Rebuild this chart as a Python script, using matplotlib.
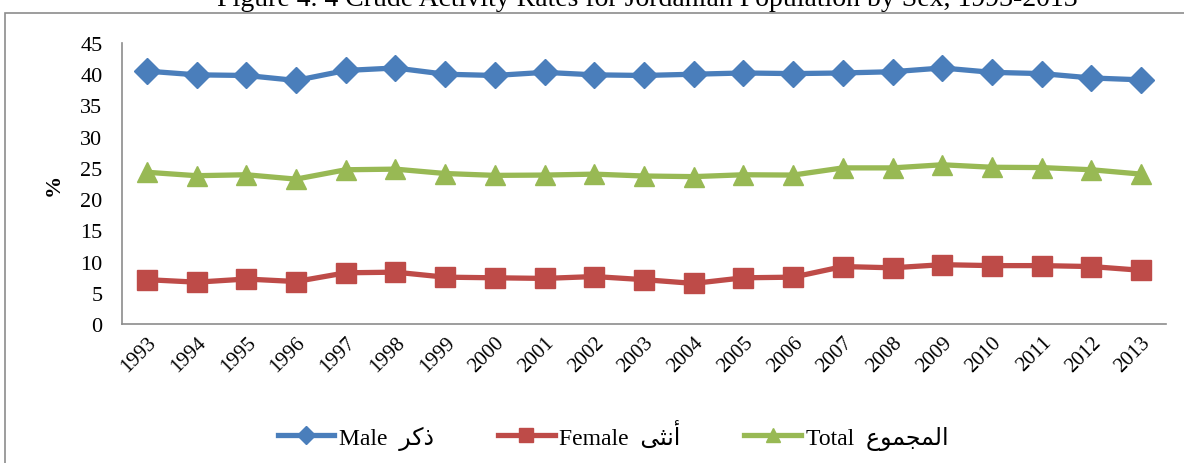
import numpy as np
import matplotlib.pyplot as plt
from matplotlib.patches import Rectangle

years = [str(y) for y in range(1993, 2014)]
male = [40.5, 39.9, 39.8, 39.0, 40.6, 41.0, 40.0, 39.8, 40.3, 39.9, 39.8,
        40.0, 40.2, 40.1, 40.2, 40.4, 41.0, 40.3, 40.1, 39.4, 39.1]
female = [7.1, 6.7, 7.2, 6.8, 8.2, 8.3, 7.5, 7.4, 7.3, 7.6, 7.1,
          6.5, 7.4, 7.5, 9.2, 9.0, 9.5, 9.35, 9.35, 9.2, 8.6]
total = [24.3, 23.75, 23.9, 23.2, 24.7, 24.8, 24.1, 23.8, 23.85, 24.0, 23.7,
         23.6, 23.9, 23.85, 25.0, 25.0, 25.5, 25.1, 25.05, 24.7, 24.0]

# Arabic written in presentation forms, visual order (no shaping in matplotlib)
ar_male = "\uFEAE\uFEDB\uFEAB"
ar_female = "\uFEF0\uFE9C\uFEE7\uFE83"
ar_total = "\uFEC9\uFEEE\uFEE4\uFEA0\uFEE4\uFEDF\uFE8D"

plt.rcParams['font.family'] = ['Liberation Serif', 'DejaVu Sans']

fig = plt.figure(figsize=(11.84, 4.64), dpi=100)
ax = fig.add_axes([122/1184, 1-325/464, (1166-122)/1184, (325-44)/464])

fig.patches.append(Rectangle((5/1184, -0.1), 1.0, 1-14/464+0.1, transform=fig.transFigure,
                             fill=False, edgecolor='#8c8c8c', linewidth=1.2))

x = np.arange(len(years))
ax.plot(x, male, color='#4A7EBB', marker='D', markersize=13, linewidth=3.8,
        label="Male  " + ar_male)
ax.plot(x, female, color='#BE4B48', marker='s', markersize=14, linewidth=3.8,
        label="Female  " + ar_female)
ax.plot(x, total, color='#98B954', marker='^', markersize=15, linewidth=3.8,
        label="Total  " + ar_total)

ax.set_xlim(-0.5, len(years) - 0.5)
ax.set_ylim(0, 45)
ax.set_yticks(range(0, 50, 5))
ax.set_xticks(x)
ax.set_xticklabels(years, rotation=45, ha='right', rotation_mode='anchor', fontsize=15)
ax.tick_params(axis='y', labelsize=16, length=0, pad=14)
ax.tick_params(axis='x', length=0, pad=6)
for s in ['top', 'right']:
    ax.spines[s].set_visible(False)
for s in ['left', 'bottom']:
    ax.spines[s].set_color('#8c8c8c')
    ax.spines[s].set_linewidth(1.2)
ax.set_ylabel('%', fontsize=16, fontweight='bold', labelpad=12)

fig.text(647/1184, 1.0, "Figure 4. 4 Crude Activity Rates for Jordanian Population by Sex, 1993-2013",
         ha='center', va='center', fontsize=20)

fig.legend(loc='center', bbox_to_anchor=(613/1184, 1-436/464), ncol=3, frameon=False,
           fontsize=17, handlelength=2.4, columnspacing=2.7, handletextpad=0.2,
           markerscale=0.7)

fig.savefig('out.png', dpi=100)
